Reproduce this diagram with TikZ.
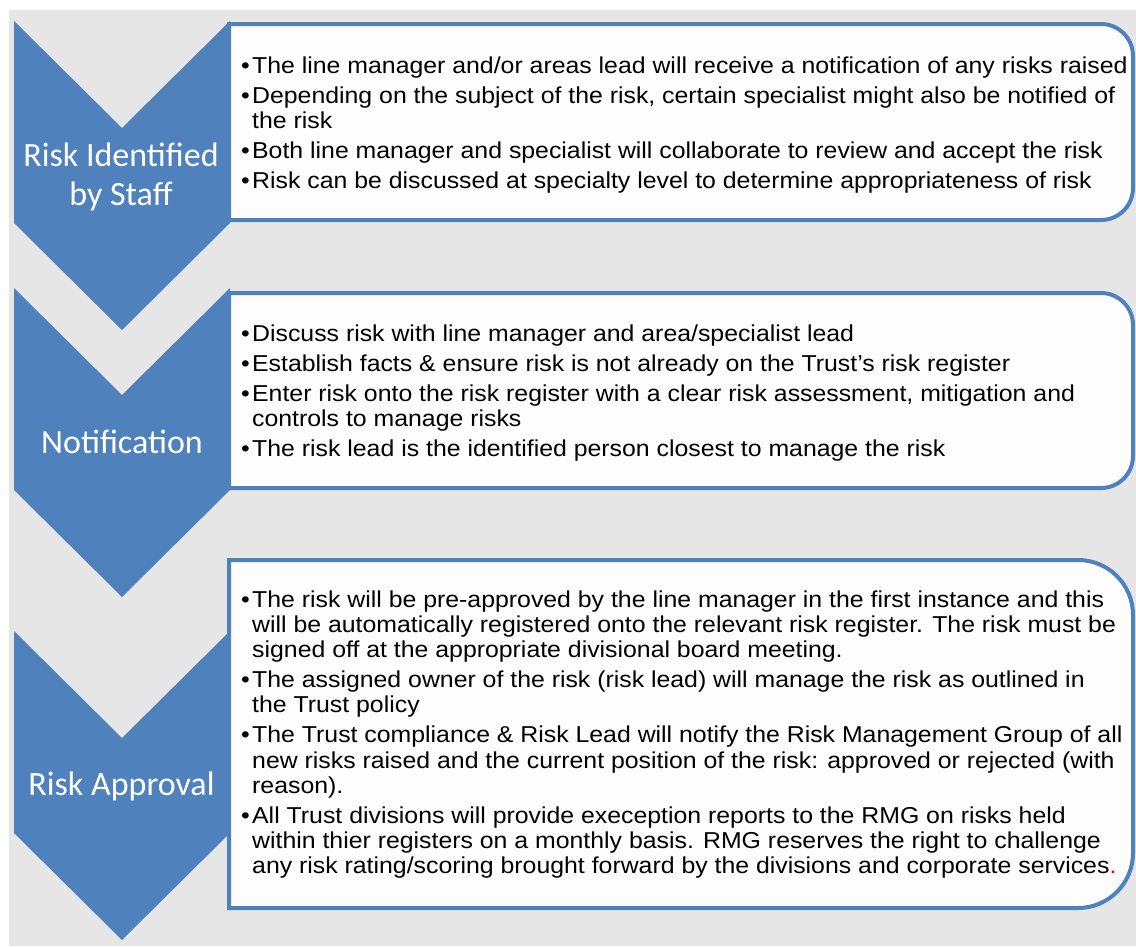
\documentclass[tikz,border=0pt]{standalone}
\usepackage{fontspec}
\newfontfamily\bodyfont[FakeStretch=1.08]{Liberation Sans}
\newfontfamily\chevfont{Carlito}
\definecolor{accblue}{HTML}{4F81BD}
\definecolor{bggray}{HTML}{E6E6E6}
\definecolor{boxfill}{HTML}{FDFDFD}
\newcommand{\bul}{\makebox[11pt][l]{•}}
\newcommand{\ind}{\hspace*{11pt}}
\newcommand{\pgap}{\\[4.8pt]}
\newcommand{\firstrule}{\rule{0pt}{17pt}}
\tikzset{
  chevron/.style={fill=accblue, draw=none},
  panel/.style={draw=accblue, line width=4pt, fill=boxfill},
  boxtext/.style={anchor=north west, inner sep=0pt, align=left, text=black,
    font=\bodyfont\fontsize{23}{25.2}\selectfont},
  chevtext/.style={anchor=north, inner sep=0pt, align=center, text=white,
    font=\chevfont\fontsize{34}{39}\selectfont}
}
\begin{document}
\begin{tikzpicture}[x=1pt,y=-1pt]
\useasboundingbox (0,0) rectangle (1136,946);
\fill[white] (0,0) rectangle (1136,946);
\fill[bggray] (9,10) rectangle (1136,946);

% chevrons
\fill[chevron] (14,21) -- (122,128) -- (230,21) -- (230,223) -- (122,330) -- (14,223) -- cycle;
\fill[chevron] (14,288) -- (122,395) -- (230,288) -- (230,490) -- (122,597) -- (14,490) -- cycle;
\fill[chevron] (14,631) -- (122,738) -- (230,631) -- (230,833) -- (122,940) -- (14,833) -- cycle;

% panels
\draw[panel] (229,24) -- (1101,24) .. controls (1118.7,24) and (1133,38.3) .. (1133,56)
  -- (1133,188) .. controls (1133,205.7) and (1118.7,220) .. (1101,220) -- (229,220) -- cycle;
\draw[panel] (229,293) -- (1101,293) .. controls (1118.7,293) and (1133,307.3) .. (1133,325)
  -- (1133,456) .. controls (1133,473.7) and (1118.7,488) .. (1101,488) -- (229,488) -- cycle;
\draw[panel] (229,560) -- (1078,560) .. controls (1108.4,560) and (1133,584.6) .. (1133,615)
  -- (1133,853) .. controls (1133,883.4) and (1108.4,908) .. (1078,908) -- (229,908) -- cycle;

% chevron labels
\node[chevtext] (c1) at (121,141) {\rule{0pt}{25pt}Risk Identified\\by Staff};
\node[chevtext] (c2) at (122,428) {\rule{0pt}{25pt}Notification};
\node[chevtext] (c3) at (121.5,770) {\rule{0pt}{25pt}Risk Approval};

% panel texts
\node[boxtext] (t1) at (241,56) {\firstrule\bul The line manager and/or areas lead will receive a notification of any risks raised\pgap
\bul Depending on the subject of the risk, certain specialist might also be notified of\\
\ind the risk\pgap
\bul Both line manager and specialist will collaborate to review and accept the risk\pgap
\bul Risk can be discussed at specialty level to determine appropriateness of risk};

\node[boxtext] (t2) at (241,324) {\firstrule\bul Discuss risk with line manager and area/specialist lead\pgap
\bul Establish facts \& ensure risk is not already on the Trust’s risk register\pgap
\bul Enter risk onto the risk register with a clear risk assessment, mitigation and\\
\ind controls to manage risks\pgap
\bul The risk lead is the identified person closest to manage the risk};

\node[boxtext] (t3) at (241,590) {\firstrule\bul The risk will be pre-approved by the line manager in the first instance and this\\
\ind will be automatically registered onto the relevant risk register. The risk must be\\
\ind signed off at the appropriate divisional board meeting.\pgap
\bul The assigned owner of the risk (risk lead) will manage the risk as outlined in\\
\ind the Trust policy\pgap
\bul The Trust compliance \& Risk Lead will notify the Risk Management Group of all\\
\ind new risks raised and the current position of the risk: approved or rejected (with\\
\ind reason).\pgap
\bul All Trust divisions will provide exeception reports to the RMG on risks held\\
\ind within thier registers on a monthly basis. RMG reserves the right to challenge\\
\ind any risk rating/scoring brought forward by the divisions and corporate services{\color{red}.}};
\end{tikzpicture}
\end{document}
